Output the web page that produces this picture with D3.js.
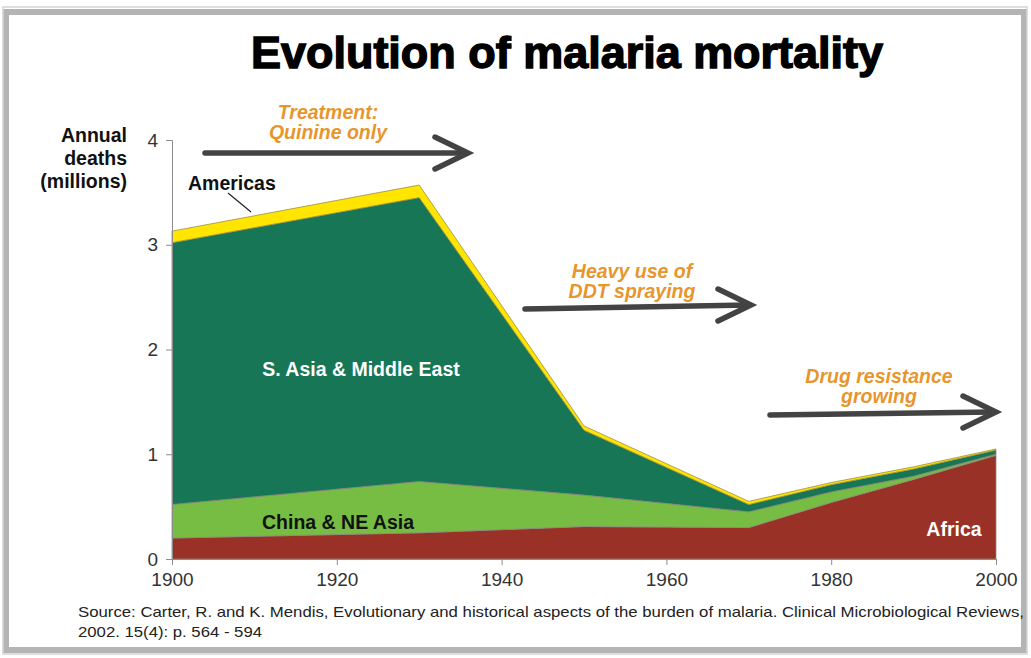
<!DOCTYPE html>
<html>
<head>
<meta charset="utf-8">
<script src="https://cdn.jsdelivr.net/npm/d3@7"></script>
<style>
  body { margin: 0; background: #fff; }
  svg { display: block; }
</style>
</head>
<body>
<script>
// data (millions of deaths per year)
const years    = [1900, 1930, 1950, 1970, 1980, 1990, 2000];
const africa   = [0.20, 0.25, 0.31, 0.30, 0.54, 0.76, 0.99];
const china    = [0.32, 0.49, 0.30, 0.15, 0.10, 0.03, 0.01];
const sAsia    = [2.50, 2.71, 0.62, 0.07, 0.07, 0.07, 0.04];
const americas = [0.11, 0.12, 0.04, 0.03, 0.02, 0.02, 0.01];

const keys = ["africa", "china", "sAsia", "americas"];
const colors = { africa: "#9a3127", china: "#77bd43", sAsia: "#177655", americas: "#ffe500" };
const xTicks = [1900, 1920, 1940, 1960, 1980, 2000];
const yTicks = [0, 1, 2, 3, 4];

const rows = years.map((y, i) => ({
  year: y, africa: africa[i], china: china[i], sAsia: sAsia[i], americas: americas[i]
}));

const width = 1031, height = 658;
const font = "'Liberation Sans', Arial, sans-serif";

const svg = d3.select("body").append("svg")
  .attr("width", width)
  .attr("height", height);

// frame
svg.append("rect").attr("x", 0).attr("y", 0).attr("width", width).attr("height", height).attr("fill", "#fff");
svg.append("rect")
  .attr("x", 6).attr("y", 12).attr("width", 1018).attr("height", 638)
  .attr("fill", "none").attr("stroke", "#b4b4b4").attr("stroke-width", 6);
svg.append("rect")
  .attr("x", 3).attr("y", 7).attr("width", 1024).attr("height", 647)
  .attr("fill", "none").attr("stroke", "#d4d4d4").attr("stroke-width", 1.5);

// title
svg.append("text")
  .attr("x", 567).attr("y", 68)
  .attr("text-anchor", "middle")
  .attr("textLength", 632).attr("lengthAdjust", "spacingAndGlyphs")
  .style("font-family", font)
  .style("font-weight", "bold").style("font-size", "44px")
  .attr("fill", "#000").attr("stroke", "#000").attr("stroke-width", 1.4)
  .text("Evolution of malaria mortality");

const x = d3.scaleLinear().domain([1900, 2000]).range([172, 996]);
const y = d3.scaleLinear().domain([0, 4]).range([559, 140]);

const series = d3.stack().keys(keys)(rows);

const area = d3.area()
  .x(d => x(d.data.year))
  .y0(d => y(d[0]))
  .y1(d => y(d[1]));

svg.append("g").selectAll("path")
  .data(series)
  .join("path")
  .attr("d", area)
  .attr("fill", d => colors[d.key])
  .attr("stroke", d => d.key === "americas" ? "#9c9040" : "#8a8a7a")
  .attr("stroke-width", 1)
  .attr("stroke-opacity", 0.8);

// axes
const yAxis = d3.axisLeft(y).tickValues(yTicks).tickSize(6).tickPadding(8).tickFormat(d3.format("d"));
const xAxis = d3.axisBottom(x).tickValues(xTicks).tickSize(6).tickPadding(8).tickFormat(d3.format("d"));

const gy = svg.append("g").attr("transform", "translate(172,0)").call(yAxis);
const gx = svg.append("g").attr("transform", "translate(0,559)").call(xAxis);
[gx, gy].forEach(g => {
  g.select(".domain").attr("stroke", "#8c8c8c");
  g.selectAll(".tick line").attr("stroke", "#8c8c8c");
  g.selectAll(".tick text")
    .attr("fill", "#333")
    .style("font-family", font)
    .style("font-size", "19px");
});

// y axis title
const ylab = svg.append("text")
  .attr("text-anchor", "end")
  .style("font-family", font)
  .style("font-weight", "bold").style("font-size", "19.5px")
  .attr("fill", "#111");
["Annual", "deaths", "(millions)"].forEach((t, i) => {
  ylab.append("tspan").attr("x", 127).attr("y", 142 + i * 23).text(t);
});

// series labels
function label(txt, px, py, fill, anchor) {
  svg.append("text")
    .attr("x", px).attr("y", py)
    .attr("text-anchor", anchor || "middle")
    .style("font-family", font)
    .style("font-weight", "bold").style("font-size", "19.5px")
    .attr("fill", fill)
    .text(txt);
}
label("Americas", 188, 190, "#111", "start");
svg.append("line")
  .attr("x1", 228).attr("y1", 193).attr("x2", 251).attr("y2", 212)
  .attr("stroke", "#222").attr("stroke-width", 1.2);
label("S. Asia & Middle East", 361, 376, "#fff");
label("China & NE Asia", 338, 529, "#111");
label("Africa", 954, 536, "#fff");

// annotations with arrows
const notes = [
  { lines: ["Treatment:", "Quinine only"], cx: 328, ty: 119, x1: 205, y1: 153, x2: 468, y2: 153 },
  { lines: ["Heavy use of", "DDT spraying"], cx: 632, ty: 278, x1: 525, y1: 309, x2: 751, y2: 305 },
  { lines: ["Drug resistance", "growing"], cx: 879, ty: 383, x1: 770, y1: 415, x2: 996, y2: 412 }
];

notes.forEach(n => {
  const t = svg.append("text")
    .attr("text-anchor", "middle")
    .style("font-family", font)
    .style("font-weight", "bold").style("font-style", "italic")
    .style("font-size", "19.5px")
    .attr("fill", "#e8962c");
  n.lines.forEach((l, i) => t.append("tspan").attr("x", n.cx).attr("y", n.ty + i * 20).text(l));

  const g = svg.append("g")
    .attr("stroke", "#434343").attr("stroke-width", 5.5)
    .attr("stroke-linecap", "round").attr("fill", "none");
  g.append("line").attr("x1", n.x1).attr("y1", n.y1).attr("x2", n.x2 - 2).attr("y2", n.y2);
  g.append("polyline")
    .attr("stroke-linejoin", "miter")
    .attr("points", `${n.x2 - 33},${n.y2 - 16} ${n.x2},${n.y2} ${n.x2 - 33},${n.y2 + 16}`);
});

// source
const src = svg.append("text")
  .style("font-family", "'Liberation Sans Narrow', 'Arial Narrow', 'Liberation Sans', sans-serif")
  .style("font-size", "15px")
  .attr("fill", "#222");
src.append("tspan").attr("x", 78).attr("y", 617)
  .attr("textLength", 946).attr("lengthAdjust", "spacingAndGlyphs")
  .text("Source: Carter, R. and K. Mendis, Evolutionary and historical aspects of the burden of malaria. Clinical Microbiological Reviews,");
src.append("tspan").attr("x", 78).attr("y", 637)
  .attr("textLength", 184).attr("lengthAdjust", "spacingAndGlyphs")
  .text("2002. 15(4): p. 564 - 594");
</script>
</body>
</html>
